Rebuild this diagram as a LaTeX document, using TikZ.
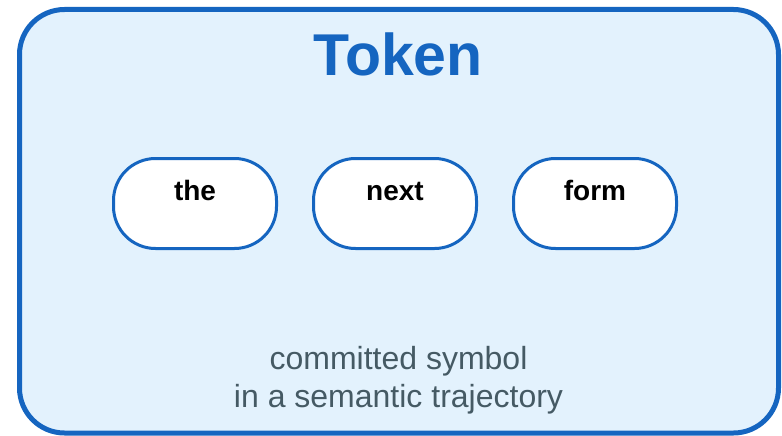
\documentclass[tikz,border=0pt]{standalone}
\usepackage{fontspec}
\setmainfont{Liberation Sans}
\definecolor{tokenblue}{HTML}{1565C0}
\definecolor{tokenfill}{HTML}{E3F2FD}
\definecolor{notegrey}{HTML}{455A64}
\begin{document}
\begin{tikzpicture}[
        x=1pt, y=-1pt,
        frame/.style={draw=tokenblue, line width=5pt, fill=tokenfill, rounded corners=45pt},
        word/.style={draw=tokenblue, line width=3pt, fill=white, rounded corners=42pt,
            minimum width=163pt, minimum height=90pt, inner sep=0pt,
            text height=20pt, text depth=27pt, font=\fontsize{28}{34}\selectfont\bfseries},
        title/.style={anchor=base, text=tokenblue, font=\fontsize{59}{70}\selectfont\bfseries},
        note/.style={anchor=base, align=center, text=notegrey, font=\fontsize{32}{38}\selectfont}
    ]
        \useasboundingbox (0,0) rectangle (782,436);
        \draw[frame] (19.5,9.5) rectangle (778.5,433);

        \node[title] (token) at (398,75) {Token};

        \node[word] (the) at (195,203.5) {the};
        \node[word] (next) at (395,203.5) {next};
        \node[word] (form) at (595,203.5) {form};

        % base of a two-line node sits on its last line
        \node[note] (gloss) at (398.5,407) {committed symbol\\in a semantic trajectory};
    \end{tikzpicture}
\end{document}
